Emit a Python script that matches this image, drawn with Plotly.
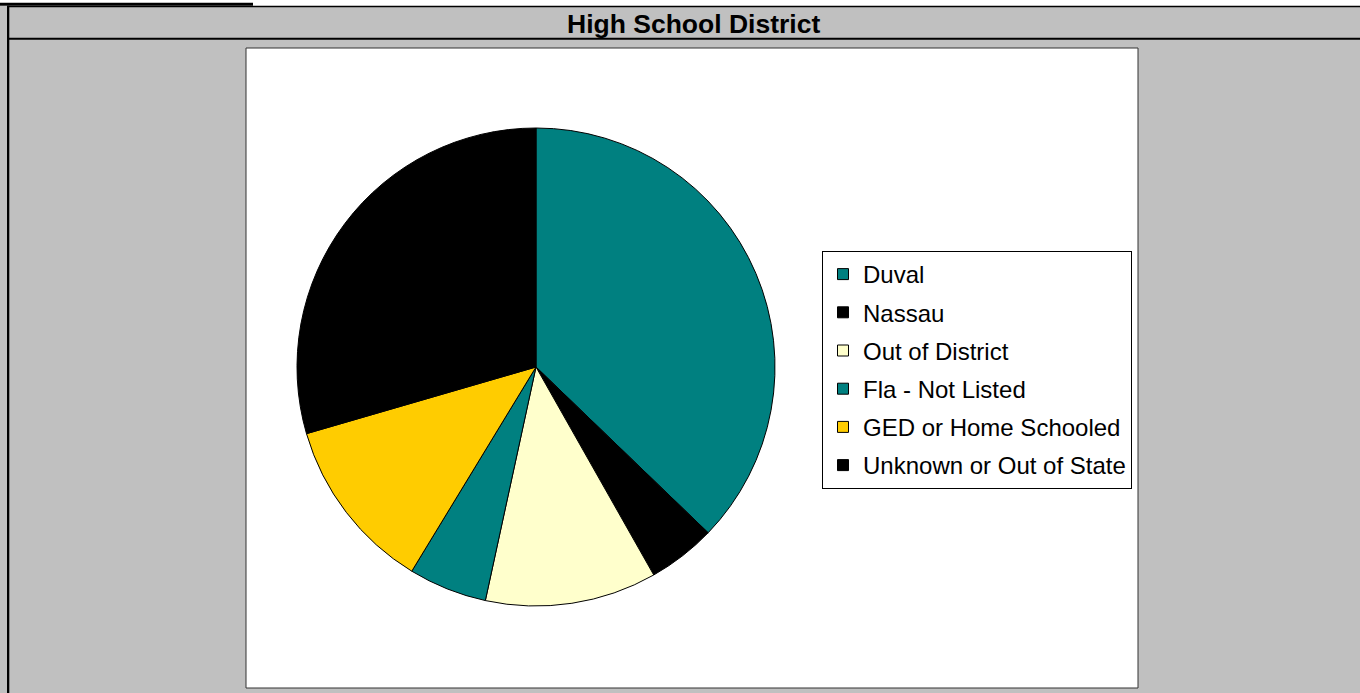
import plotly.graph_objects as go

W, H = 1360, 693

categories = ["Duval", "Nassau", "Out of District", "Fla - Not Listed",
              "GED or Home Schooled", "Unknown or Out of State"]
values = [37.2, 4.6, 11.6, 5.3, 11.8, 29.5]
colors = ["#008080", "#000000", "#FFFFCC", "#008080", "#FFCC00", "#000000"]
title_text = "High School District"

FONT = "Liberation Sans, Arial, sans-serif"

def px(x):
    return x / W

def py(y):
    return 1 - y / H

fig = go.Figure()

fig.add_trace(go.Pie(
    labels=categories, values=values, sort=False, direction="clockwise",
    rotation=0, marker=dict(colors=colors, line=dict(color="#000000", width=1)),
    textinfo="none", hoverinfo="label+percent", showlegend=False,
    domain=dict(x=[px(297), px(775)], y=[py(606), py(128)]),
))

# legend entries
for i, (c, col) in enumerate(zip(categories, colors)):
    fig.add_trace(go.Scatter(
        x=[None], y=[None], mode="markers", name=c,
        legendgroup=f"g{i}",
        marker=dict(symbol="square", size=11, color=col,
                    line=dict(color="#000000", width=1)),
    ))

shapes = [
    # top white strip
    dict(type="rect", xref="paper", yref="paper", x0=0, x1=1, y0=py(6), y1=1,
         fillcolor="#FFFFFF", line=dict(width=0), layer="below"),
    # underline of cut-off heading
    dict(type="rect", xref="paper", yref="paper", x0=0, x1=px(253), y0=py(5.7), y1=py(2.7),
         fillcolor="#000000", line=dict(width=0), layer="below"),
    # header top line
    dict(type="rect", xref="paper", yref="paper", x0=px(7), x1=1, y0=py(7.3), y1=py(5.7),
         fillcolor="#000000", line=dict(width=0), layer="below"),
    # header bottom line
    dict(type="rect", xref="paper", yref="paper", x0=px(7), x1=1, y0=py(39.7), y1=py(37.7),
         fillcolor="#000000", line=dict(width=0), layer="below"),
    # left border
    dict(type="rect", xref="paper", yref="paper", x0=px(7), x1=px(9.3), y0=0, y1=py(5.7),
         fillcolor="#000000", line=dict(width=0), layer="below"),
    # white chart area
    dict(type="rect", xref="paper", yref="paper", x0=px(246), x1=px(1138), y0=py(688), y1=py(48),
         fillcolor="#FFFFFF", line=dict(color="#333333", width=1), layer="below"),
]

fig.update_layout(
    width=W, height=H,
    margin=dict(l=0, r=0, t=0, b=0),
    paper_bgcolor="#C0C0C0", plot_bgcolor="rgba(0,0,0,0)",
    xaxis=dict(visible=False), yaxis=dict(visible=False),
    shapes=shapes,
    showlegend=True,
    legend=dict(
        x=px(822), y=py(251), xanchor="left", yanchor="top",
        bgcolor="#FFFFFF", bordercolor="#000000", borderwidth=1,
        font=dict(family=FONT, size=24, color="#000000"),
        tracegroupgap=4, itemwidth=30,
    ),
    annotations=[dict(
        text="<b>" + title_text + "</b>", x=px(693), y=py(24), xref="paper", yref="paper",
        showarrow=False, xanchor="center", yanchor="middle",
        font=dict(family=FONT, size=26.5, color="#000000"),
    )],
)

fig.write_html("out.html", config={"displayModeBar": False},
               post_script="document.body.style.margin='0px';document.body.style.padding='0px';")
